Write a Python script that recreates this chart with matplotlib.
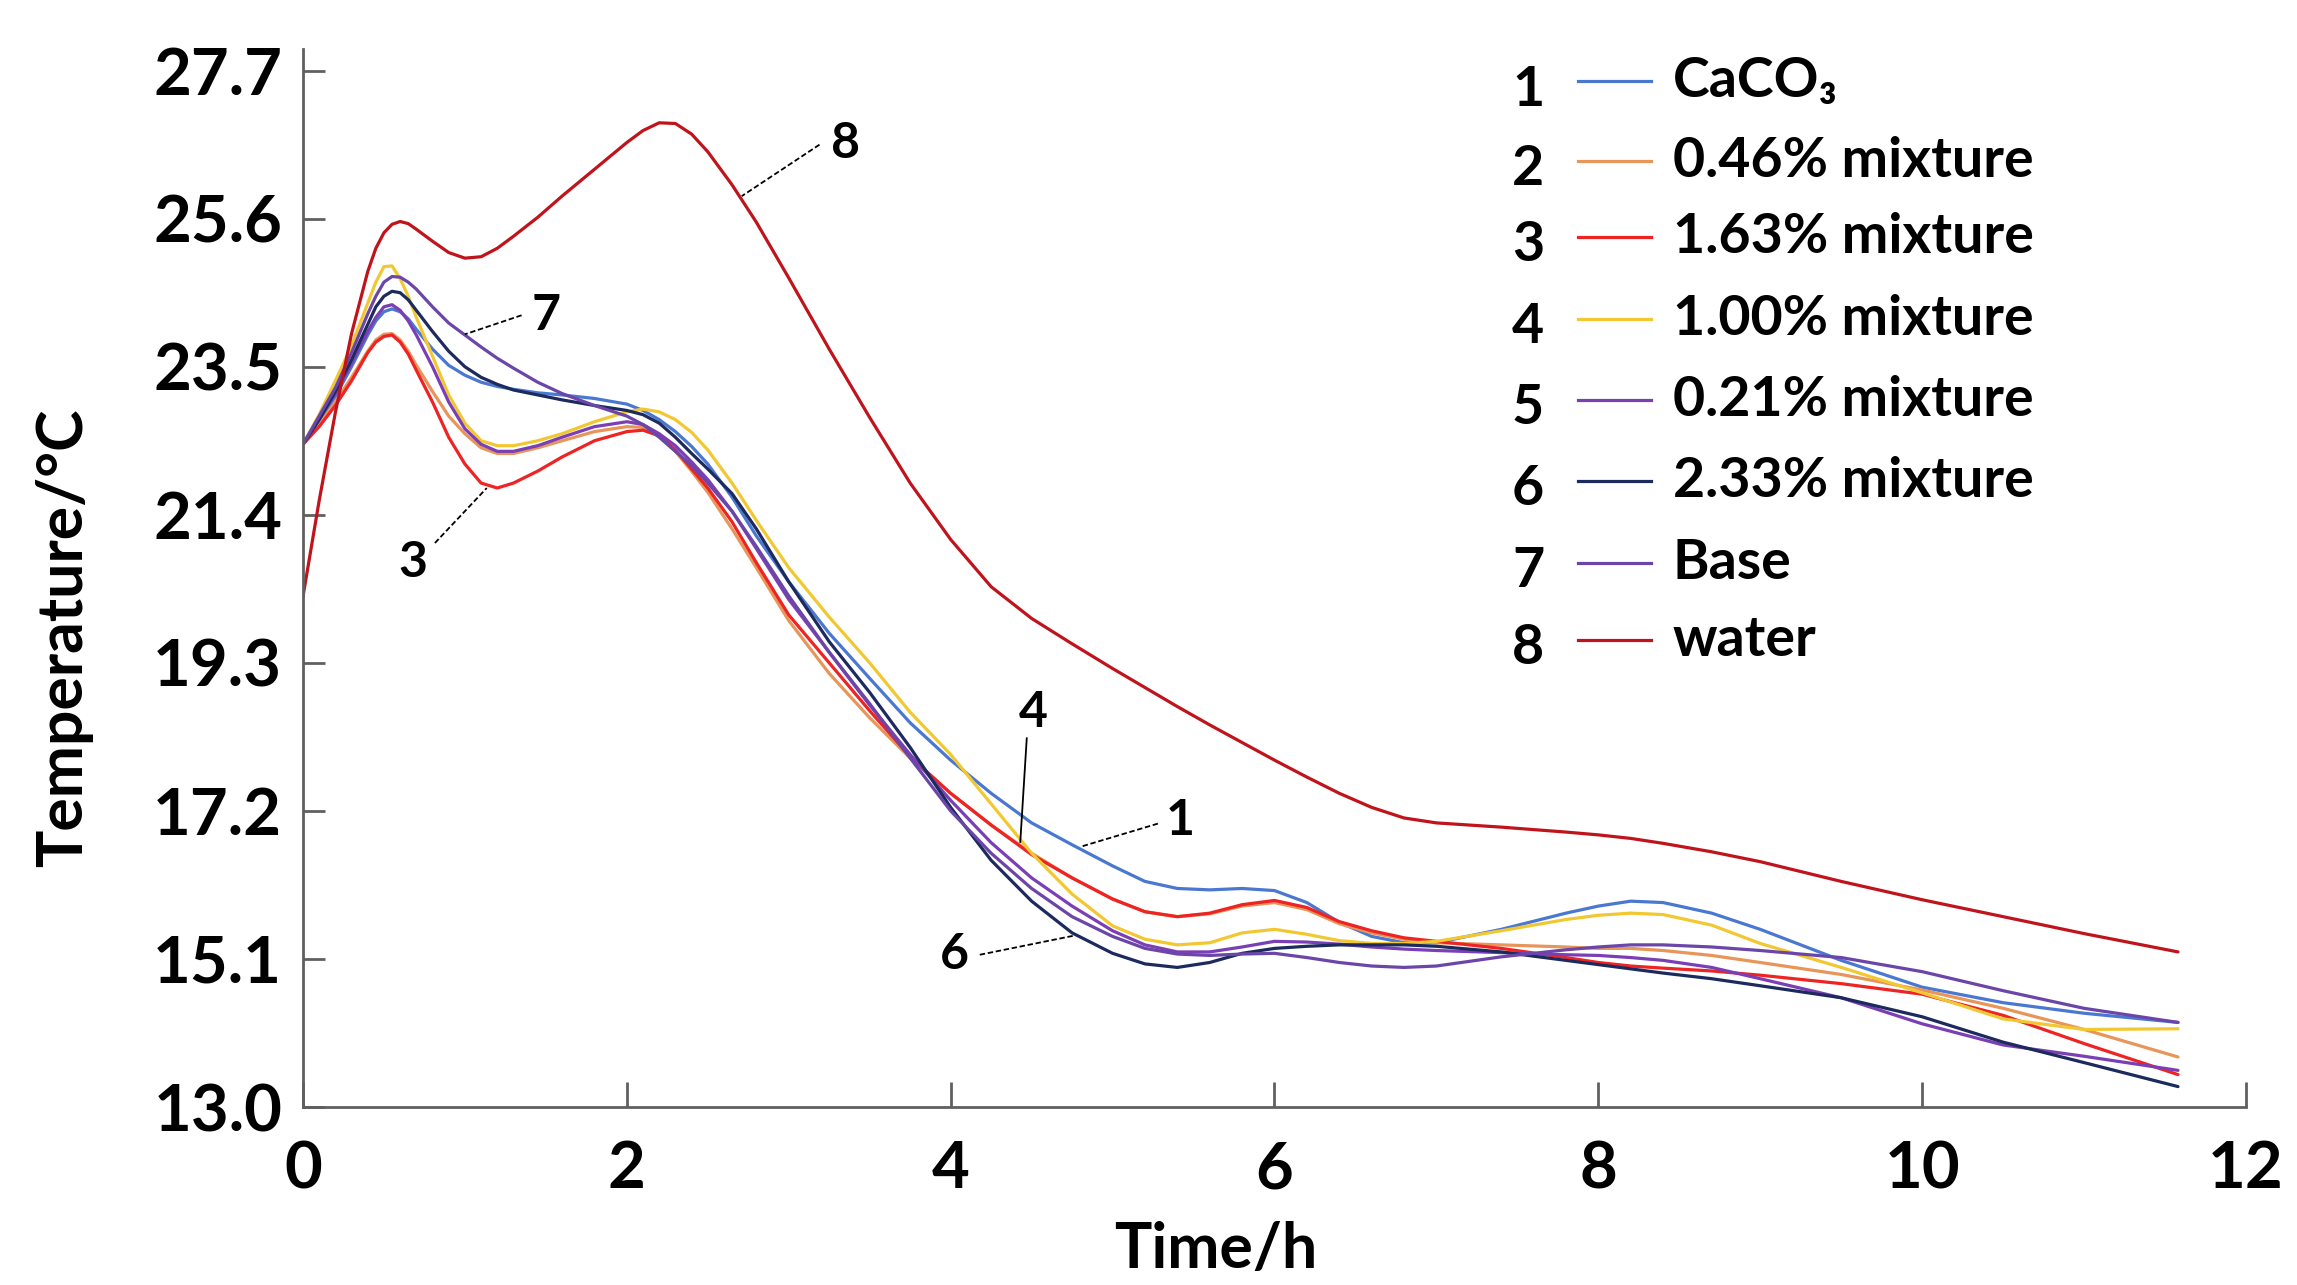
import matplotlib
matplotlib.use("Agg")
import matplotlib.pyplot as plt

plt.rcParams["font.family"] = ["Lato", "DejaVu Sans"]
plt.rcParams["font.weight"] = "bold"
plt.rcParams["axes.labelweight"] = "bold"

# sampling times (h), shared by every curve
hours = [0.0, 0.1, 0.2, 0.3, 0.4, 0.45, 0.5, 0.55, 0.6, 0.65,
         0.7, 0.8, 0.9, 1.0, 1.1, 1.2, 1.3, 1.45, 1.6, 1.8,
         2.0, 2.1, 2.2, 2.3, 2.4, 2.5, 2.65, 2.8, 3.0, 3.25,
         3.5, 3.75, 4.0, 4.25, 4.5, 4.75, 5.0, 5.2, 5.4, 5.6,
         5.8, 6.0, 6.2, 6.4, 6.6, 6.8, 7.0, 7.4, 7.8, 8.0,
         8.2, 8.4, 8.7, 9.0, 9.5, 10.0, 10.5, 11.0, 11.58]

caco3 = [22.4, 22.72, 23.08, 23.5, 23.95, 24.15, 24.28, 24.32, 24.28, 24.18,
         24.03, 23.75, 23.52, 23.38, 23.28, 23.22, 23.18, 23.13, 23.1, 23.05,
         22.97, 22.88, 22.75, 22.58, 22.37, 22.12, 21.65, 21.1, 20.45, 19.72,
         19.08, 18.45, 17.92, 17.45, 17.03, 16.72, 16.42, 16.2, 16.1, 16.08,
         16.1, 16.07, 15.9, 15.62, 15.42, 15.33, 15.33, 15.52, 15.75, 15.85,
         15.92, 15.9, 15.75, 15.52, 15.08, 14.7, 14.48, 14.33, 14.2]
mix_046 = [22.4, 22.68, 23.0, 23.35, 23.72, 23.88, 23.96, 23.97, 23.88, 23.72,
           23.52, 23.15, 22.8, 22.55, 22.35, 22.27, 22.27, 22.35, 22.45, 22.58,
           22.65, 22.64, 22.52, 22.3, 22.02, 21.72, 21.2, 20.65, 19.9, 19.15,
           18.52, 17.95, 17.45, 17.0, 16.6, 16.25, 15.95, 15.77, 15.7, 15.74,
           15.85, 15.9, 15.8, 15.6, 15.47, 15.38, 15.33, 15.3, 15.27, 15.25,
           15.25, 15.22, 15.15, 15.05, 14.88, 14.66, 14.4, 14.1, 13.71]
mix_163 = [22.4, 22.65, 22.95, 23.3, 23.7, 23.85, 23.93, 23.95, 23.85, 23.68,
           23.45, 23.0, 22.5, 22.12, 21.85, 21.78, 21.85, 22.02, 22.22, 22.45,
           22.58, 22.6, 22.52, 22.32, 22.05, 21.78, 21.3, 20.72, 19.98, 19.3,
           18.62, 17.97, 17.45, 17.0, 16.58, 16.25, 15.95, 15.77, 15.7, 15.75,
           15.87, 15.93, 15.83, 15.63, 15.5, 15.4, 15.35, 15.25, 15.12, 15.05,
           15.0, 14.97, 14.93, 14.87, 14.75, 14.6, 14.3, 13.9, 13.46]
mix_100 = [22.4, 22.82, 23.3, 23.8, 24.4, 24.7, 24.92, 24.93, 24.75, 24.5,
           24.2, 23.65, 23.1, 22.7, 22.45, 22.38, 22.38, 22.45, 22.55, 22.72,
           22.86, 22.9, 22.86, 22.75, 22.57, 22.32, 21.85, 21.32, 20.65, 19.95,
           19.3, 18.6, 18.0, 17.3, 16.6, 16.02, 15.57, 15.38, 15.3, 15.33,
           15.47, 15.52, 15.45, 15.36, 15.32, 15.32, 15.35, 15.5, 15.66, 15.72,
           15.75, 15.73, 15.58, 15.32, 14.98, 14.62, 14.25, 14.1, 14.11]
mix_021 = [22.4, 22.75, 23.12, 23.55, 24.0, 24.2, 24.35, 24.38, 24.3, 24.15,
           23.95, 23.5, 23.0, 22.62, 22.4, 22.3, 22.3, 22.38, 22.5, 22.65,
           22.72, 22.68, 22.55, 22.38, 22.15, 21.9, 21.45, 20.92, 20.2, 19.45,
           18.7, 18.0, 17.35, 16.75, 16.25, 15.85, 15.5, 15.3, 15.2, 15.2,
           15.27, 15.35, 15.34, 15.31, 15.27, 15.24, 15.22, 15.19, 15.16, 15.15,
           15.12, 15.08, 14.98, 14.82, 14.55, 14.18, 13.88, 13.72, 13.52]
mix_233 = [22.4, 22.75, 23.15, 23.6, 24.1, 24.35, 24.5, 24.57, 24.55, 24.45,
           24.3, 24.0, 23.72, 23.5, 23.35, 23.25, 23.17, 23.1, 23.03, 22.95,
           22.88, 22.82, 22.7, 22.5, 22.27, 22.05, 21.7, 21.2, 20.45, 19.6,
           18.88, 18.1, 17.25, 16.5, 15.92, 15.47, 15.18, 15.03, 14.98, 15.05,
           15.18, 15.25, 15.28, 15.3, 15.3, 15.3, 15.28, 15.2, 15.08, 15.02,
           14.96, 14.9, 14.82, 14.72, 14.55, 14.28, 13.92, 13.63, 13.29]
base = [22.4, 22.8, 23.2, 23.7, 24.25, 24.5, 24.7, 24.78, 24.77, 24.7,
        24.6, 24.35, 24.12, 23.95, 23.78, 23.62, 23.48, 23.28, 23.12, 22.95,
        22.8, 22.68, 22.5, 22.3, 22.1, 21.85, 21.45, 20.95, 20.25, 19.45,
        18.72, 17.95, 17.2, 16.6, 16.1, 15.7, 15.42, 15.25, 15.17, 15.15,
        15.17, 15.18, 15.12, 15.05, 15.0, 14.98, 15.0, 15.13, 15.23, 15.27,
        15.3, 15.3, 15.27, 15.22, 15.12, 14.92, 14.65, 14.4, 14.2]
water = [20.24, 21.6, 22.85, 23.97, 24.85, 25.18, 25.4, 25.52, 25.56, 25.53,
         25.45, 25.28, 25.12, 25.04, 25.06, 25.18, 25.35, 25.62, 25.92, 26.3,
         26.68, 26.85, 26.96, 26.95, 26.8, 26.55, 26.08, 25.55, 24.76, 23.75,
         22.78, 21.85, 21.05, 20.38, 19.93, 19.57, 19.22, 18.95, 18.68, 18.42,
         18.17, 17.92, 17.68, 17.45, 17.25, 17.1, 17.03, 16.97, 16.9, 16.86,
         16.81, 16.74, 16.62, 16.48, 16.2, 15.94, 15.7, 15.46, 15.2]

labels = ["CaCO\u2083", "0.46% mixture", "1.63% mixture", "1.00% mixture",
          "0.21% mixture", "2.33% mixture", "Base", "water"]
colors = ["#4a78d0", "#e8955a", "#ee2424", "#f2c832",
          "#7b3fb5", "#1c2a5e", "#6b46a8", "#c0141c"]
series = [caco3, mix_046, mix_163, mix_100, mix_021, mix_233, base, water]

yticks = [13.0, 15.1, 17.2, 19.3, 21.4, 23.5, 25.6, 27.7]
ytick_labels = ["13.0", "15.1", "17.2", "19.3", "21.4", "23.5", "25.6", "27.7"]
xticks = [0, 2, 4, 6, 8, 10, 12]

# curve call-outs: (text, text position, line start, line end, dashed?)
callouts = [
    ("8", (3.35, 26.67), (3.19, 26.65), (2.71, 25.92), True),
    ("7", (1.50, 24.23), (1.35, 24.23), (1.00, 23.96), True),
    ("3", (0.68, 20.72), (0.815, 21.00), (1.135, 21.78), True),
    ("4", (4.51, 18.60), (4.47, 18.23), (4.43, 16.76), False),
    ("1", (5.42, 17.07), (5.28, 17.02), (4.80, 16.69), True),
    ("6", (4.02, 15.16), (4.18, 15.16), (4.76, 15.43), True),
]

fig = plt.figure(figsize=(22.97, 12.85), dpi=100)
ax = fig.add_axes([0.1319, 0.1385, 0.8459, 0.8230])

for vals, col in zip(series, colors):
    ax.plot(hours, vals, color=col, lw=2.3, solid_joinstyle="round",
            solid_capstyle="round")

for txt, tpos, p0, p1, dashed in callouts:
    ax.plot([p0[0], p1[0]], [p0[1], p1[1]], color="black", lw=1.3,
            linestyle=(0, (3, 1.5)) if dashed else "-")
    ax.text(tpos[0], tpos[1], txt, fontsize=36, ha="center", va="center")

ax.set_xlim(0, 12)
ax.set_ylim(13.0, 28.0)
ax.set_xticks(xticks)
ax.set_yticks(yticks)
ax.set_yticklabels(ytick_labels)
ax.tick_params(axis="both", direction="in", width=2, color="#606060",
               labelsize=47)
ax.tick_params(axis="x", length=18, pad=24)
ax.tick_params(axis="y", length=16, pad=15)
for side in ("top", "right"):
    ax.spines[side].set_visible(False)
for side in ("left", "bottom"):
    ax.spines[side].set_color("#606060")
    ax.spines[side].set_linewidth(2)

ax.set_xlabel("Time/h", fontsize=45)
ax.set_ylabel("Temperature/\u00b0C", fontsize=45)
ax.xaxis.set_label_coords(0.47, -0.108)
ax.yaxis.set_label_coords(-0.108, 0.444)

# hand-made legend: number, short line, label
row_y = [0.970, 0.8946, 0.8227, 0.7452, 0.6686, 0.5924, 0.5148, 0.4416]
for i, (lab, col, y) in enumerate(zip(labels, colors, row_y)):
    ax.text(0.6305, y - 0.008, str(i + 1), transform=ax.transAxes,
            fontsize=40, ha="center", va="center")
    ax.plot([0.656, 0.694], [y, y], transform=ax.transAxes, color=col,
            lw=2.3, clip_on=False)
    ax.text(0.705, y, lab, transform=ax.transAxes, fontsize=40,
            ha="left", va="center")

fig.savefig("out.png", dpi=100)
